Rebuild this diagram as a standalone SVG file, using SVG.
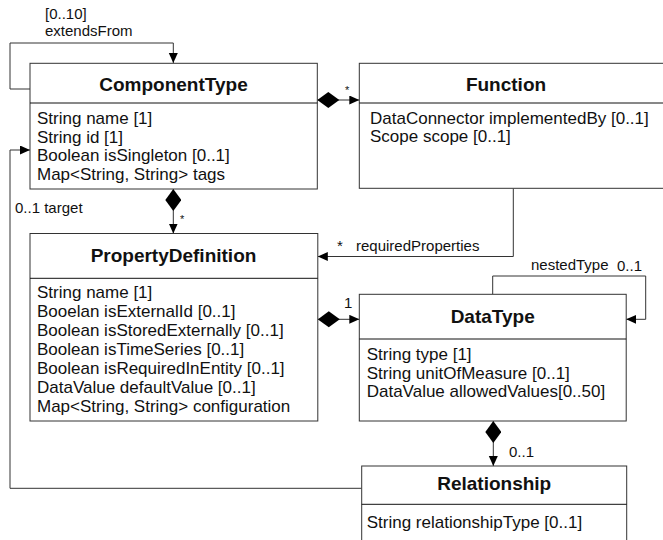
<svg xmlns="http://www.w3.org/2000/svg" width="663" height="540" viewBox="0 0 663 540">
<style>
.box{fill:#fff;stroke:#333;stroke-width:1}
.sep{stroke:#111;stroke-width:1}
.conn{fill:none;stroke:#333;stroke-width:1}
.title{font-family:"Liberation Sans",Arial,Helvetica,sans-serif;font-weight:bold;font-size:19px;fill:#111;text-anchor:middle}
.attr{font-family:"Liberation Sans",Arial,Helvetica,sans-serif;font-size:17px;fill:#111}
.lbl{font-family:"Liberation Sans",Arial,Helvetica,sans-serif;font-size:15px;fill:#111}
.sm{font-family:"Liberation Sans",Arial,Helvetica,sans-serif;font-size:11px;fill:#111}
</style>
<defs>
<marker id="arrow" markerUnits="userSpaceOnUse" markerWidth="11" markerHeight="10" refX="10" refY="4.5" orient="auto">
<path d="M0,0 L10,4.5 L0,9 z" fill="#000"/>
</marker>
<marker id="diamond" markerUnits="userSpaceOnUse" markerWidth="23" markerHeight="17" refX="0" refY="8" orient="auto">
<path d="M0,8 L11,0 L22,8 L11,16 z" fill="#000"/>
</marker>
</defs>
<rect width="663" height="540" fill="#fff"/>

<g id="connectors">
<path class="conn" d="M30,89 H10 V43 H173.3 V63" marker-end="url(#arrow)"/>
<path class="conn" d="M317.3,100 H359.3" marker-start="url(#diamond)" marker-end="url(#arrow)"/>
<path class="conn" d="M173.3,189 V233.5" marker-start="url(#diamond)" marker-end="url(#arrow)"/>
<path class="conn" d="M513.3,188.5 V256.5 H317.8" marker-end="url(#arrow)"/>
<path class="conn" d="M317.8,319.3 H359.3" marker-start="url(#diamond)" marker-end="url(#arrow)"/>
<path class="conn" d="M492.7,294.3 V276 H645.7 V319.3 H626.2" marker-end="url(#arrow)"/>
<path class="conn" d="M493.3,421 V466" marker-start="url(#diamond)" marker-end="url(#arrow)"/>
<path class="conn" d="M361.7,488.3 H10 V150 H30" marker-end="url(#arrow)"/>
<text class="lbl" x="45" y="19">[0..10]</text>
<text class="lbl" x="45" y="36">extendsFrom</text>
<text class="sm" x="345" y="94">*</text>
<text class="sm" x="180" y="223">*</text>
<text class="lbl" x="337" y="251">*</text>
<text class="lbl" x="356" y="251">requiredProperties</text>
<text class="lbl" x="344" y="308">1</text>
<text class="lbl" x="531" y="270">nestedType</text>
<text class="lbl" x="617" y="271">0..1</text>
<text class="lbl" x="509" y="457">0..1</text>
<text class="lbl" x="15" y="213">0..1 target</text>
</g>

<g id="ComponentType">
<rect class="box" x="30" y="63.3" width="287.3" height="125.7"/>
<line class="sep" x1="30" y1="103" x2="317.3" y2="103"/>
<text class="title" x="173.5" y="91">ComponentType</text>
<text class="attr" x="37" y="124">String name [1]</text>
<text class="attr" x="37" y="142.6">String id [1]</text>
<text class="attr" x="37" y="161.2">Boolean isSingleton [0..1]</text>
<text class="attr" x="37" y="179.8">Map&lt;String, String&gt; tags</text>
</g>

<g id="Function">
<rect class="box" x="359.3" y="63.3" width="306" height="125"/>
<line class="sep" x1="359.3" y1="103" x2="665" y2="103"/>
<text class="title" x="506" y="91">Function</text>
<text class="attr" x="370" y="124">DataConnector implementedBy [0..1]</text>
<text class="attr" x="370" y="142">Scope scope [0..1]</text>
</g>

<g id="PropertyDefinition">
<rect class="box" x="30" y="233.5" width="287.8" height="187.5"/>
<line class="sep" x1="30" y1="278.3" x2="317.8" y2="278.3"/>
<text class="title" x="173.5" y="262">PropertyDefinition</text>
<text class="attr" x="37" y="298">String name [1]</text>
<text class="attr" x="37" y="317">Booelan isExternalId [0..1]</text>
<text class="attr" x="37" y="336">Boolean isStoredExternally [0..1]</text>
<text class="attr" x="37" y="355">Boolean isTimeSeries [0..1]</text>
<text class="attr" x="37" y="374">Boolean isRequiredInEntity [0..1]</text>
<text class="attr" x="37" y="393">DataValue defaultValue [0..1]</text>
<text class="attr" x="37" y="412">Map&lt;String, String&gt; configuration</text>
</g>

<g id="DataType">
<rect class="box" x="359.3" y="294.3" width="266.9" height="126.7"/>
<line class="sep" x1="359.3" y1="339" x2="626.2" y2="339"/>
<text class="title" x="492.7" y="323">DataType</text>
<text class="attr" x="366.7" y="360">String type [1]</text>
<text class="attr" x="366.7" y="378.5">String unitOfMeasure [0..1]</text>
<text class="attr" x="366.7" y="397">DataValue allowedValues[0..50]</text>
</g>

<g id="Relationship">
<rect class="box" x="361.7" y="466" width="265" height="90"/>
<line class="sep" x1="361.7" y1="504.3" x2="626.7" y2="504.3"/>
<text class="title" x="494.2" y="490">Relationship</text>
<text class="attr" x="366.7" y="528.3">String relationshipType [0..1]</text>
</g>
</svg>
